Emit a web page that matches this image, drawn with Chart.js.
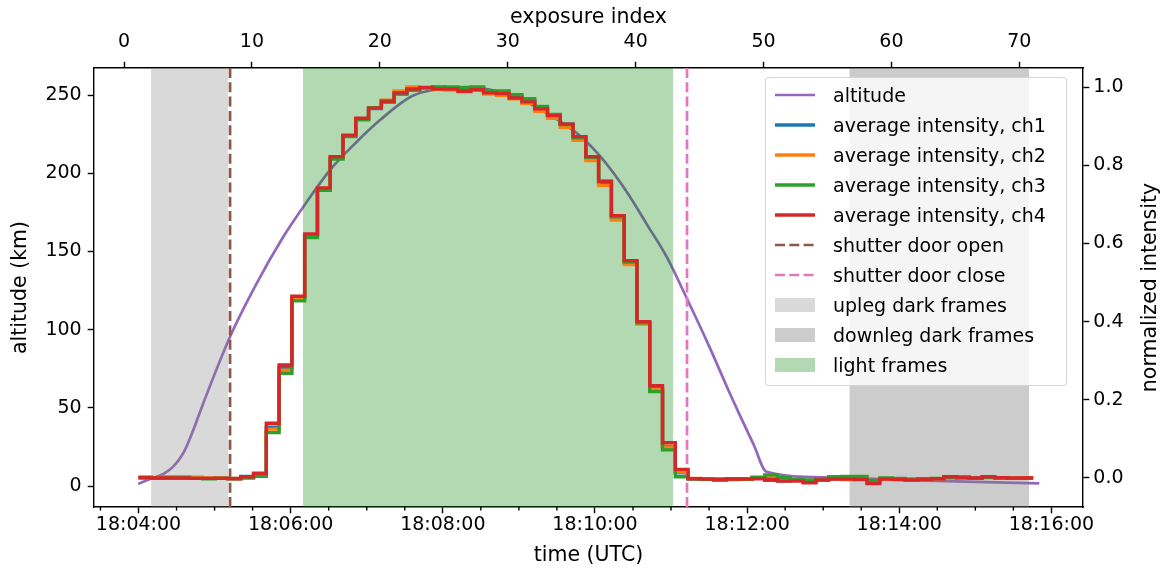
<!DOCTYPE html>
<html>
<head>
<meta charset="utf-8">
<script src="https://cdn.jsdelivr.net/npm/chart.js@4.4.0/dist/chart.umd.min.js"></script>
<style>
  html, body { margin: 0; padding: 0; background: #fff; }
  #wrap { position: relative; width: 1166px; height: 569px; }
  #legend {
    position: absolute; left: 765px; top: 77px; width: 302px;
    padding: 2px 0 5px 0; box-sizing: border-box;
    background: rgba(255,255,255,0.8); border: 1px solid rgba(204,204,204,0.8); border-radius: 4px;
    font-family: 'DejaVu Sans', sans-serif; font-size: 19px; color: #000; white-space: nowrap;
  }
  .row { height: 30px; display: flex; align-items: center; }
  .row canvas { margin-left: 9px; margin-right: 18px; }
</style>
</head>
<body>
<div id="wrap">
  <canvas id="c" width="1166" height="569"></canvas>
  <div id="legend"></div>
</div>
<script>
// time values are seconds after 18:00:00 UTC
const altTimes = [239.8, 249.1, 259.6, 267.4, 275.3, 283.2, 291.1, 312.2, 333.2, 354.2, 370, 391, 412, 430.5,
  456.7, 488.3, 509.3, 535.6, 562, 588.2, 604, 614.5, 627.6, 640.8, 656.6, 673.6, 690, 706.5, 714.4, 724.9, 735.4,
  782.7, 845.8, 950.4];
const altKm = [1.3, 4.5, 7.7, 12.4, 21, 35.8, 53, 95.5, 129.6, 159.4, 178.6, 202, 220, 234,
  249.7, 254.2, 254.2, 249.2, 238.5, 224, 211, 200.3, 185, 167.5, 146.5, 118, 89.5, 59, 45, 27, 9.1,
  5.5, 3.8, 1.7];

// exposures: start of first frame and cadence (s)
const FRAME_START = 240;
const FRAME_CADENCE = 10.08;

const ch1 = [0.001, 0.000, 0.001, 0.001, 0.000, -0.001, 0.000, -0.001, 0.004, 0.010,
  0.130, 0.283, 0.462, 0.622, 0.740, 0.820, 0.875, 0.918, 0.945, 0.962,
  0.982, 0.992, 0.998, 1.000, 0.997, 0.992, 0.996, 0.988, 0.986, 0.976,
  0.965, 0.946, 0.928, 0.905, 0.872, 0.820, 0.756, 0.668, 0.553, 0.397,
  0.228, 0.080, 0.013, -0.002, -0.003, -0.005, -0.004, -0.003, -0.001, -0.006,
  -0.007, -0.006, -0.010, -0.004, -0.002, -0.003, -0.003, -0.010, -0.002, -0.002,
  -0.004, -0.003, -0.002, 0.001, 0.002, 0.000, 0.002, 0.000, -0.001, 0.000];
const ch2 = [0.001, 0.001, 0.003, 0.003, 0.002, 0.000, 0.000, -0.001, 0.002, 0.008,
  0.125, 0.276, 0.458, 0.620, 0.739, 0.819, 0.875, 0.918, 0.946, 0.966,
  0.990, 1.000, 0.998, 0.994, 0.992, 0.988, 0.992, 0.982, 0.979, 0.970,
  0.958, 0.938, 0.920, 0.897, 0.864, 0.812, 0.748, 0.660, 0.546, 0.394,
  0.226, 0.079, 0.015, -0.001, -0.002, -0.003, -0.002, -0.003, 0.001, 0.002,
  -0.005, -0.006, -0.008, -0.005, -0.002, -0.004, -0.002, -0.008, -0.003, -0.002,
  -0.005, -0.004, -0.002, 0.002, 0.001, -0.001, 0.002, 0.001, 0.000, 0.001];
const ch3 = [0.000, -0.001, 0.000, 0.000, -0.001, -0.002, -0.001, -0.002, 0.000, 0.004,
  0.116, 0.268, 0.453, 0.615, 0.736, 0.816, 0.873, 0.916, 0.947, 0.965,
  0.985, 0.993, 0.998, 0.998, 1.000, 0.999, 1.000, 0.990, 0.990, 0.980,
  0.970, 0.950, 0.930, 0.904, 0.870, 0.820, 0.760, 0.668, 0.552, 0.397,
  0.221, 0.072, 0.003, -0.002, -0.003, -0.003, -0.002, -0.002, 0.002, 0.008,
  0.001, -0.004, -0.005, -0.002, 0.003, 0.004, 0.004, -0.006, 0.000, -0.001,
  -0.003, -0.002, -0.001, 0.001, 0.000, -0.001, 0.001, 0.000, -0.001, -0.001];
const ch4 = [0.002, 0.000, 0.000, 0.000, -0.001, -0.001, -0.001, -0.002, 0.003, 0.012,
  0.140, 0.289, 0.465, 0.624, 0.742, 0.822, 0.877, 0.920, 0.946, 0.962,
  0.985, 0.995, 0.999, 0.995, 0.995, 0.989, 0.993, 0.985, 0.983, 0.972,
  0.962, 0.944, 0.927, 0.905, 0.873, 0.822, 0.758, 0.671, 0.556, 0.400,
  0.236, 0.090, 0.022, -0.002, -0.003, -0.004, -0.003, -0.003, -0.002, -0.004,
  -0.008, -0.008, -0.012, -0.005, -0.003, -0.003, -0.004, -0.014, -0.003, -0.004,
  -0.005, -0.004, -0.002, 0.003, 0.002, 0.000, 0.003, 0.001, 0.000, 0.000];

const shutterOpenSec = 312.2;
const shutterCloseSec = 672.6;
const spanLabels = ['upleg dark frames', 'downleg dark frames', 'light frames'];
const spanStartSec = [249.9, 800.6, 369.7];
const spanEndSec = [310.8, 942.4, 661.7];
const spanColors = ['rgba(128,128,128,0.3)', 'rgba(128,128,128,0.4)', 'rgba(0,128,0,0.3)'];

const X_MIN = 204.9, X_MAX = 984.9;        // bottom axis (s after 18:00)
const TOP_MIN = -2.35, TOP_MAX = 74.98;    // exposure index
const ALT_MIN = -13.4, ALT_MAX = 267.3;
const INT_MIN = -0.0742, INT_MAX = 1.0486;

const FONT = 'DejaVu Sans';
const TITLE_SIZE = 20.5;
Chart.defaults.font.family = FONT;
Chart.defaults.font.size = 19;
Chart.defaults.color = '#000';

function fmtTime(v) {
  const s = 18 * 3600 + Math.round(v);
  const hh = Math.floor(s / 3600), mm = Math.floor((s % 3600) / 60), ss = s % 60;
  return [hh, mm, ss].map(n => String(n).padStart(2, '0')).join(':');
}

const frameTimes = [];
for (let k = 0; k <= ch1.length; k++) frameTimes.push(FRAME_START + k * FRAME_CADENCE);

function stepPoints(vals) {
  // last point repeats the last value so the final frame gets its width
  return frameTimes.map((t, k) => ({ x: t, y: vals[Math.min(k, vals.length - 1)] }));
}

const chanColors = ['#1f77b4', '#ff7f0e', '#2ca02c', '#d62728'];
const chanData = [ch1, ch2, ch3, ch4];

const datasets = [];
datasets.push({
  label: 'altitude', kind: 'line',
  data: altTimes.map((t, i) => ({ x: t, y: altKm[i] })),
  xAxisID: 'x', yAxisID: 'y',
  borderColor: '#9467bd', borderWidth: 2.7, pointRadius: 0,
  cubicInterpolationMode: 'monotone', order: 20
});
chanData.forEach((vals, i) => {
  datasets.push({
    label: 'average intensity, ch' + (i + 1), kind: 'line',
    data: stepPoints(vals), xAxisID: 'x', yAxisID: 'yRight',
    borderColor: chanColors[i], borderWidth: 3.4, pointRadius: 0,
    stepped: 'before', borderJoinStyle: 'miter', order: 4 - i
  });
});
[[shutterOpenSec, 'shutter door open', '#8c564b'], [shutterCloseSec, 'shutter door close', '#e377c2']].forEach(([t, lab, col], i) => {
  datasets.push({
    label: lab, kind: 'dash',
    data: [{ x: t, y: INT_MIN }, { x: t, y: INT_MAX }], xAxisID: 'x', yAxisID: 'yRight',
    borderColor: col, borderWidth: 2.7, borderDash: [10, 4.3], pointRadius: 0, order: 10 + i
  });
});
spanLabels.forEach((lab, i) => {
  datasets.push({
    label: lab, kind: 'patch',
    data: [{ x: spanStartSec[i], y: INT_MAX }, { x: spanEndSec[i], y: INT_MAX }],
    xAxisID: 'x', yAxisID: 'yRight',
    borderWidth: 0, borderColor: 'rgba(0,0,0,0)', backgroundColor: spanColors[i],
    fill: 'start', pointRadius: 0, order: 15 + i
  });
});

const axisCommon = {
  grid: { display: true, drawOnChartArea: false, drawTicks: true, tickLength: 6.3, tickWidth: 1.4, tickColor: '#000' },
  border: { display: true, color: '#000', width: 1.4 }
};

const minorTicks = {
  id: 'minorTicks',
  afterDraw(chart) {
    const sx = chart.scales.x, ctx = chart.ctx, b = chart.chartArea.bottom;
    ctx.save();
    ctx.strokeStyle = '#000';
    ctx.lineWidth = 1.4;
    for (let t = Math.ceil(sx.min / 30) * 30; t <= sx.max; t += 30) {
      if (t % 120 === 0) continue;
      const px = sx.getPixelForValue(t);
      ctx.beginPath(); ctx.moveTo(px, b); ctx.lineTo(px, b + 3.6); ctx.stroke();
    }
    // right axis title, read bottom to top like the left one
    ctx.fillStyle = '#000';
    ctx.font = TITLE_SIZE + 'px "' + FONT + '"';
    ctx.textAlign = 'center';
    ctx.textBaseline = 'middle';
    ctx.translate(1151, (chart.chartArea.top + chart.chartArea.bottom) / 2);
    ctx.rotate(-Math.PI / 2);
    ctx.fillText('normalized intensity', 0, 0);
    ctx.restore();
  }
};

const chart = new Chart(document.getElementById('c'), {
  type: 'line',
  data: { datasets },
  options: {
    responsive: false, animation: false, devicePixelRatio: 1,
    layout: { padding: 0 },
    plugins: { legend: { display: false }, tooltip: { enabled: false } },
    scales: {
      x: {
        type: 'linear', position: 'bottom', min: X_MIN, max: X_MAX, ...axisCommon,
        ticks: { stepSize: 120, includeBounds: false, callback: fmtTime, padding: 0, maxRotation: 0, autoSkip: false },
        title: { display: true, text: 'time (UTC)', font: { size: TITLE_SIZE }, padding: { top: 0, bottom: 1.5 } },
        afterFit: s => { s.height = 62; }
      },
      xTop: {
        type: 'linear', position: 'top', min: TOP_MIN, max: TOP_MAX, ...axisCommon,
        ticks: { stepSize: 10, includeBounds: false, padding: 8, maxRotation: 0, autoSkip: false },
        title: { display: true, text: 'exposure index', font: { size: TITLE_SIZE }, padding: { top: 5.5, bottom: 0 } },
        afterFit: s => { s.height = 68; }
      },
      y: {
        type: 'linear', position: 'left', min: ALT_MIN, max: ALT_MAX, ...axisCommon,
        ticks: { stepSize: 50, includeBounds: false, padding: 6 },
        title: { display: true, text: 'altitude (km)', font: { size: TITLE_SIZE }, padding: { top: 8, bottom: 0 } },
        afterFit: s => { s.width = 94; }
      },
      yRight: {
        type: 'linear', position: 'right', min: INT_MIN, max: INT_MAX, ...axisCommon,
        ticks: { stepSize: 0.2, includeBounds: false, padding: 4, callback: v => v.toFixed(1) },
        afterFit: s => { s.width = 83; }
      }
    }
  },
  plugins: [minorTicks]
});

// legend in the upper right, matplotlib style
const legendOrder = ['altitude', 'average intensity, ch1', 'average intensity, ch2', 'average intensity, ch3',
  'average intensity, ch4', 'shutter door open', 'shutter door close'].concat(spanLabels);
const legend = document.getElementById('legend');
legendOrder.forEach(lab => {
  const ds = datasets.find(d => d.label === lab);
  const row = document.createElement('div');
  row.className = 'row';
  const cv = document.createElement('canvas');
  cv.width = 40; cv.height = 20;
  const g = cv.getContext('2d');
  if (ds.kind === 'patch') {
    g.fillStyle = ds.backgroundColor;
    g.fillRect(0, 3, 40, 14);
  } else {
    g.strokeStyle = ds.borderColor;
    g.lineWidth = ds.borderWidth;
    if (ds.kind === 'dash') g.setLineDash(ds.borderDash);
    g.beginPath(); g.moveTo(0, 10); g.lineTo(40, 10); g.stroke();
  }
  const sp = document.createElement('span');
  sp.textContent = lab;
  row.appendChild(cv); row.appendChild(sp);
  legend.appendChild(row);
});
</script>
</body>
</html>
